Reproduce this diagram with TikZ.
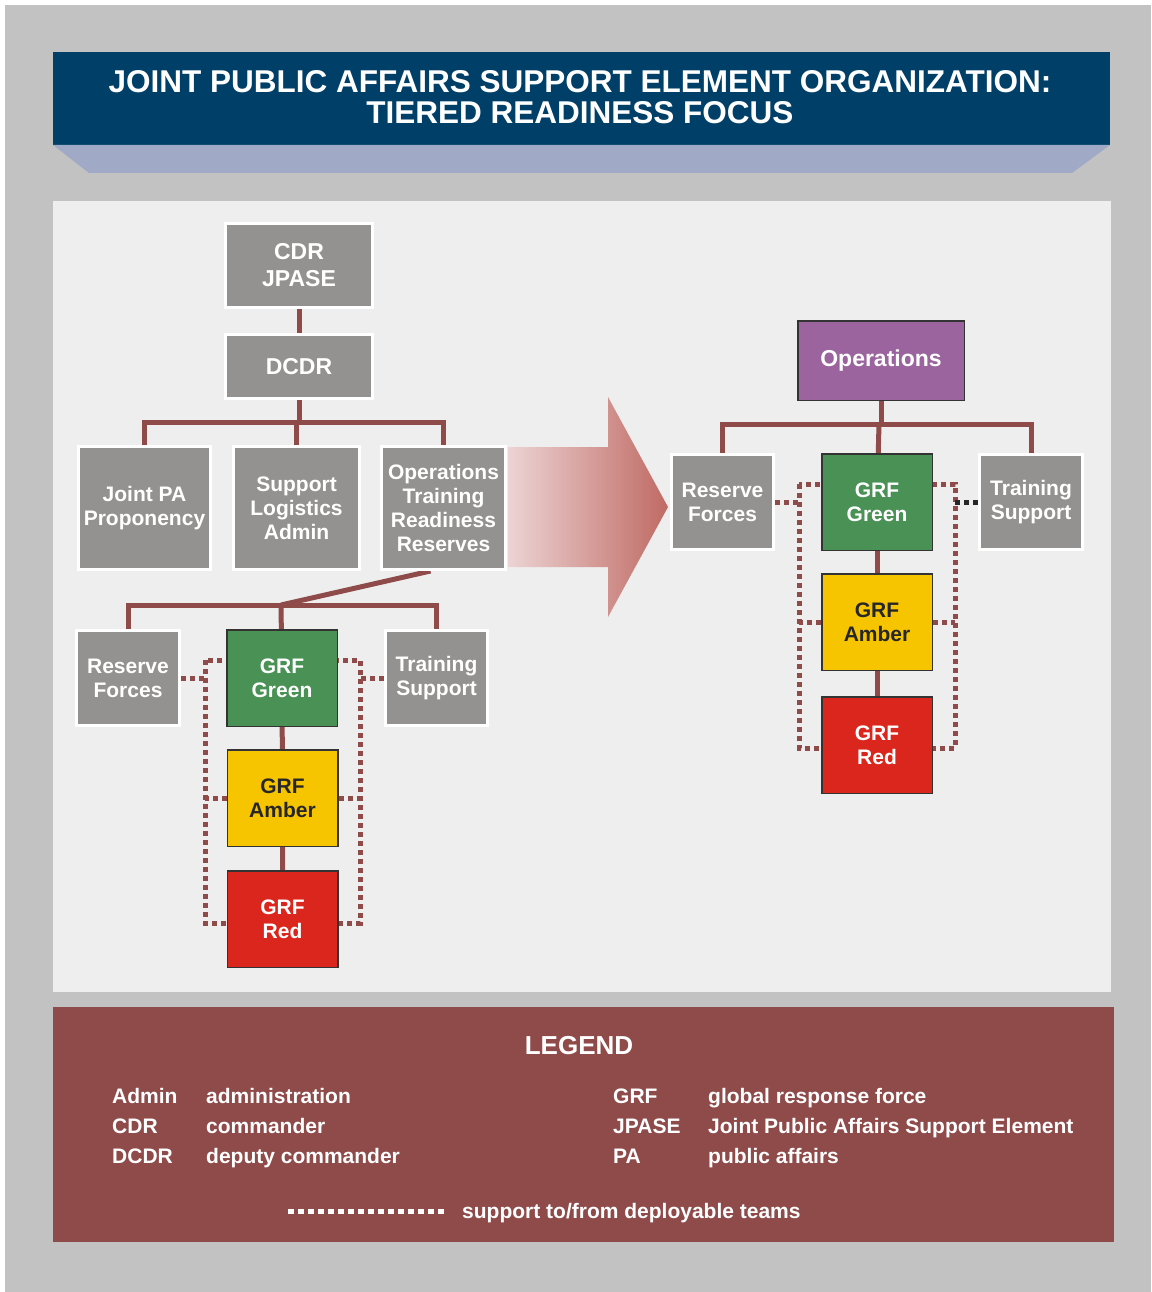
\documentclass[tikz,border=0pt]{standalone}
\usepackage{fontspec}
\setmainfont{Liberation Sans}
\usetikzlibrary{backgrounds}

\definecolor{framegray}{RGB}{194,194,194}
\definecolor{panelgray}{RGB}{238,238,238}
\definecolor{titleblue}{RGB}{0,64,104}
\definecolor{titleshade}{RGB}{160,170,198}
\definecolor{boxgray}{RGB}{148,146,144}
\definecolor{linered}{RGB}{143,74,74}
\definecolor{grfgreen}{RGB}{73,145,85}
\definecolor{grfamber}{RGB}{247,196,0}
\definecolor{grfred}{RGB}{218,38,29}
\definecolor{opspurple}{RGB}{155,100,158}
\definecolor{boxedge}{RGB}{51,51,51}
\definecolor{arrowlight}{RGB}{236,212,212}
\definecolor{arrowdark}{RGB}{192,106,100}

\tikzset{
  unit/.style = {rectangle, fill=boxgray, draw=white, line width=3pt, text=white,
                 align=center, inner sep=2pt, font=\bfseries\fontsize{21}{24}\selectfont},
  grfbox/.style = {unit, draw=boxedge, line width=1.5pt,
                   minimum width=110.5pt, minimum height=96.5pt},
  orgline/.style = {linered, line width=5pt},
  supportline/.style = {linered, line width=5pt, dash pattern=on 5pt off 4pt},
  legtxt/.style = {anchor=base west, text=white, inner sep=0pt,
                   font=\bfseries\fontsize{21}{24}\selectfont}
}

\begin{document}
\begin{tikzpicture}[x=1pt, y=-1pt]
\useasboundingbox (0,0) rectangle (1151,1292);

\begin{scope}[on background layer]
\fill[white] (0,0) rectangle (1151,1292);
\fill[framegray] (5,5) rectangle (1151,1292);
\fill[titleblue] (53,52) rectangle (1110,145);
\fill[titleshade] (53,145) -- (1110,145) -- (1072,173) -- (89,173) -- cycle;
\fill[panelgray] (53,201) rectangle (1111,992);
\fill[linered] (53,1007) rectangle (1114,1242);
\end{scope}

\node[text=white, align=center, font=\bfseries\fontsize{31.5}{31}\selectfont] (title) at (580,97.5)
   {JOINT PUBLIC AFFAIRS SUPPORT ELEMENT ORGANIZATION:\\TIERED READINESS FOCUS};

% headquarters side
\node[unit, minimum width=147pt, minimum height=84pt, font=\bfseries\fontsize{23}{27}\selectfont] (cdr) at (299,265.5) {CDR\\JPASE};
\node[unit, minimum width=147pt, minimum height=64pt, font=\bfseries\fontsize{23}{27}\selectfont] (dcdr) at (299,366.5) {DCDR};
\node[unit, minimum width=132pt, minimum height=123pt] (jpa) at (144.5,508) {Joint PA\\Proponency};
\node[unit, minimum width=126pt, minimum height=123pt] (sla) at (296.5,508) {Support\\Logistics\\Admin};
\node[unit, minimum width=124pt, minimum height=123pt] (otrr) at (443.5,508) {Operations\\Training\\Readiness\\Reserves};

\node[unit, minimum width=103pt, minimum height=95pt] (lres) at (128,678) {Reserve\\Forces};
\node[grfbox, fill=grfgreen] (lgreen) at (282,678) {GRF\\Green};
\node[grfbox, fill=grfamber, text=black!85] (lamber) at (282.5,798) {GRF\\Amber};
\node[grfbox, fill=grfred] (lred) at (282.5,919) {GRF\\Red};
\node[unit, minimum width=102pt, minimum height=95pt] (ltrain) at (436.5,678) {Training\\Support};

% operations side
\node[unit, fill=opspurple, draw=boxedge, line width=1.5pt, minimum width=166.5pt, minimum height=79.5pt,
      font=\bfseries\fontsize{23}{27}\selectfont] (ops) at (881,360.5) {Operations};
\node[unit, minimum width=102pt, minimum height=95pt] (rres) at (722.5,502) {Reserve\\Forces};
\node[grfbox, fill=grfgreen] (rgreen) at (877,502) {GRF\\Green};
\node[grfbox, fill=grfamber, text=black!85] (ramber) at (877,622) {GRF\\Amber};
\node[grfbox, fill=grfred] (rred) at (877,745) {GRF\\Red};
\node[unit, minimum width=103pt, minimum height=95pt] (rtrain) at (1031,502) {Training\\Support};

\shade[left color=arrowlight, right color=arrowdark]
   (508,447) -- (608,447) -- (608,397) -- (668,507) -- (608,617) -- (608,567) -- (508,567) -- cycle;

\coordinate (topbus) at (297,422);
\coordinate (lbus) at (281,605);
\coordinate (rbus) at (879,424);
\coordinate (lsupnw) at (205,660);
\coordinate (lsupse) at (360,923);
\coordinate (rsupnw) at (799,484);
\coordinate (rsupse) at (955,748);

\begin{scope}[on background layer]
\draw[orgline] (cdr) -- (dcdr);
\draw[orgline] (dcdr.south) -- (dcdr.south |- topbus);
\draw[orgline] (jpa.north) |- (topbus) -| (otrr.north);
\draw[orgline] (sla.north) -- (sla.north |- topbus);

\draw[orgline] ([xshift=-13pt]otrr.south) -- (lbus);
\draw[orgline] (lres.north) |- (lbus) -| (ltrain.north);
\draw[orgline] (lbus) -- (lgreen);
\draw[orgline] (lgreen) -- (lamber) -- (lred);

\draw[orgline] (ops) -- (ops |- rbus);
\draw[orgline] (rres.north) |- (rbus) -| (rtrain.north);
\draw[orgline] (rbus) -- (rgreen);
\draw[orgline] (rgreen) -- (ramber) -- (rred);

\draw[supportline] (lsupnw) rectangle (lsupse);
\draw[supportline] (lres.east) -- (lres.east -| lsupnw);
\draw[supportline] (ltrain.west) -- (ltrain.west -| lsupse);
\draw[supportline] (lamber.west) -- (lamber.west -| lsupnw);
\draw[supportline] (lamber.east) -- (lamber.east -| lsupse);

\draw[supportline] (rsupnw) rectangle (rsupse);
\draw[supportline] (rres.east) -- (rres.east -| rsupnw);
\draw[supportline, black!85] (rtrain.west) -- (rtrain.west -| rsupse);
\draw[supportline] (ramber.west) -- (ramber.west -| rsupnw);
\draw[supportline] (ramber.east) -- (ramber.east -| rsupse);
\end{scope}

% legend
\node[text=white, font=\bfseries\fontsize{26}{30}\selectfont] (legtitle) at (579,1046) {LEGEND};
\foreach \abbr/\desc [count=\i] in {Admin/administration, CDR/commander, DCDR/deputy commander}{
   \node[legtxt] (labbr\i) at (112,1073+30*\i) {\abbr};
   \node[legtxt] (ldesc\i) at (206,1073+30*\i) {\desc};
   }
\foreach \abbr/\desc [count=\i] in {GRF/global response force, JPASE/Joint Public Affairs Support Element, PA/public affairs}{
   \node[legtxt] (rabbr\i) at (613,1073+30*\i) {\abbr};
   \node[legtxt] (rdesc\i) at (708,1073+30*\i) {\desc};
   }
\coordinate (keystart) at (288,1211);
\coordinate (keyend) at (447,1211);
\draw[supportline, white, dash pattern=on 6pt off 4pt] (keystart) -- (keyend);
\node[legtxt] (keytxt) at (462,1218) {support to/from deployable teams};
\end{tikzpicture}
\end{document}
